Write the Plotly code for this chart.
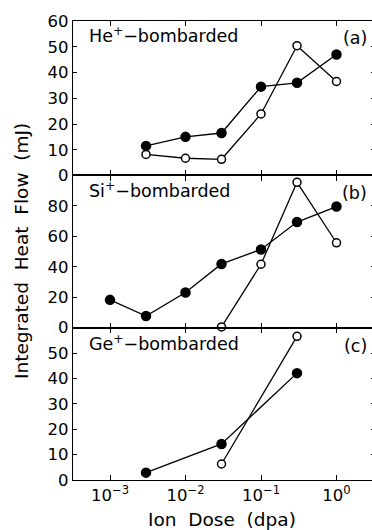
import plotly.graph_objects as go

dose = [0.003, 0.01, 0.03, 0.1, 0.3, 1.0]
he_filled = [11.5, 15, 16.5, 34.5, 36, 47]
he_open = [8.2, 6.7, 6.3, 23.9, 50.4, 36.5]

si_dose_filled = [0.001, 0.003, 0.01, 0.03, 0.1, 0.3, 1.0]
si_filled = [18.3, 7.7, 23.1, 41.9, 51.4, 69.4, 79.6]
si_dose_open = [0.03, 0.1, 0.3, 1.0]
si_open = [0.5, 41.7, 95.5, 55.8]

ge_dose = [0.003, 0.03, 0.3]
ge_filled = [2.9, 14.2, 42.1]
ge_dose_open = [0.03, 0.3]
ge_open = [6.3, 56.6]

panel_titles = ["He<sup>+</sup>\u2212bombarded", "Si<sup>+</sup>\u2212bombarded", "Ge<sup>+</sup>\u2212bombarded"]
panel_tags = ["(a)", "(b)", "(c)"]
x_ticks = [0.001, 0.01, 0.1, 1]
x_ticktext = ["10<sup>\u22123</sup>", "10<sup>\u22122</sup>", "10<sup>\u22121</sup>", "10<sup>0</sup>"]

FONT = "DejaVu Sans"
fig = go.Figure()

def add(x, y, axis, filled):
    fig.add_trace(go.Scatter(
        x=x, y=y, mode="lines+markers", xaxis="x" + axis, yaxis="y" + axis,
        line=dict(color="black", width=1.3),
        marker=dict(symbol="circle", size=9 if filled else 8,
                    color="black" if filled else "white",
                    line=dict(color="black", width=1.5)),
        showlegend=False, cliponaxis=False))

add(dose, he_filled, "", True)
add(dose, he_open, "", False)
add(si_dose_filled, si_filled, "2", True)
add(si_dose_open, si_open, "2", False)
add(ge_dose, ge_filled, "3", True)
add(ge_dose_open, ge_open, "3", False)

doms = [[0.6634, 1.0], [0.3318, 0.6634], [0.0, 0.3318]]
yr = [[0, 60], [0, 100], [0, 60]]
yt = [[0, 10, 20, 30, 40, 50, 60], [0, 20, 40, 60, 80], [0, 10, 20, 30, 40, 50]]
names = ["", "2", "3"]

W = 375
tickfont = dict(family=FONT, size=16.5, color="black")
layout = dict(
    width=W, height=530,
    margin=dict(l=73, r=0, t=21, b=50),
    paper_bgcolor="white", plot_bgcolor="white",
    showlegend=False,
)
for i, n in enumerate(names):
    layout["xaxis" + n] = dict(
        type="log", range=[-3.49, 0.51], domain=[0, 1],
        anchor="y" + n, showgrid=False, zeroline=False,
        showline=True, linecolor="black", linewidth=1.3, mirror="ticks",
        ticks="inside", ticklen=5, tickwidth=1.2, tickcolor="black",
        tickvals=x_ticks, ticktext=x_ticktext,
        showticklabels=(i == 2), tickfont=tickfont,
    )
    if i < 2:
        layout["xaxis" + n]["matches"] = "x3"
    layout["yaxis" + n] = dict(
        range=yr[i], domain=doms[i], anchor="x" + n,
        showgrid=False, zeroline=False,
        showline=True, linecolor="black", linewidth=1.3, mirror="ticks",
        ticks="inside", ticklen=4, tickwidth=1.2, tickcolor="black",
        tickvals=yt[i], tickfont=tickfont,
    )

def px_x(px):
    return (px - 73) / (W - 73)

annotations = []
ys = [0.9695, 0.632, 0.2985]
for i in range(3):
    annotations.append(dict(text=panel_titles[i], x=px_x(87), y=ys[i], xref="paper", yref="paper",
                            xanchor="left", yanchor="middle", showarrow=False,
                            font=dict(family=FONT, size=17.5, color="black")))
    annotations.append(dict(text=panel_tags[i], x=px_x(369), y=ys[i] - 0.006, xref="paper", yref="paper",
                            xanchor="right", yanchor="middle", showarrow=False,
                            font=dict(family=FONT, size=17.5, color="black")))
annotations.append(dict(text="Integrated\u00a0 Heat\u00a0 Flow\u00a0 (mJ)", x=px_x(22), y=0.499,
                        xref="paper", yref="paper", textangle=-90, showarrow=False,
                        xanchor="center", yanchor="middle",
                        font=dict(family=FONT, size=18.5, color="black")))
annotations.append(dict(text="Ion\u00a0 Dose\u00a0 (dpa)", x=px_x(222), y=-0.087,
                        xref="paper", yref="paper", showarrow=False,
                        xanchor="center", yanchor="middle",
                        font=dict(family=FONT, size=18.5, color="black")))
layout["annotations"] = annotations
fig.update_layout(**layout)
fig.write_html("out.html", config={"displayModeBar": False},
               post_script="document.body.style.margin='0';document.body.style.overflow='hidden';")
